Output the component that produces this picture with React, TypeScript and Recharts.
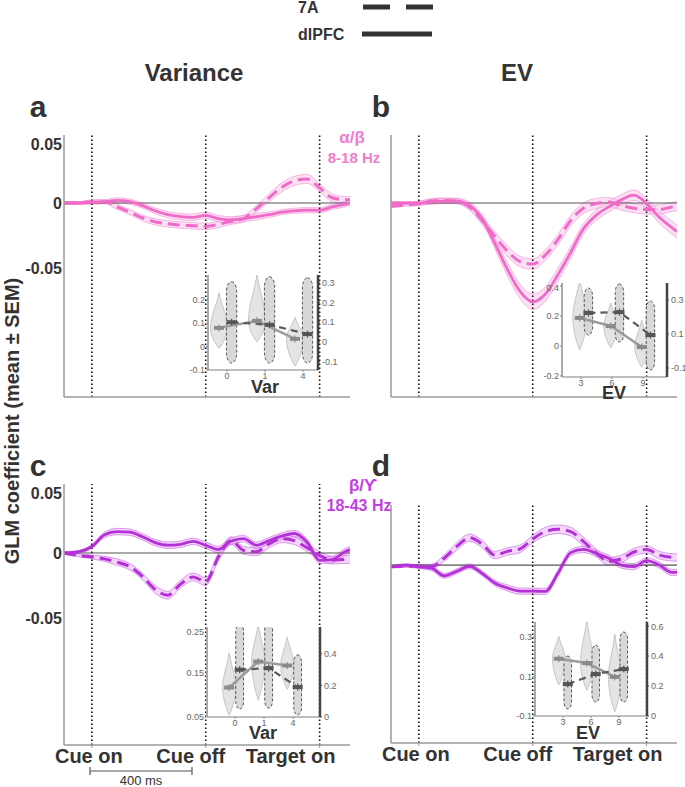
import React from 'react';
import { ComposedChart, Line, Area, XAxis, YAxis, ReferenceLine, ReferenceArea } from 'recharts';

const FONT = '"Liberation Sans", Arial, Helvetica, sans-serif';
const INK = '#333333';
const AXIS = '#9a9a9a';
const PINK = '#f06ac8';
const PINK_BAND = '#f8c6eb';
const PINK_TEXT = '#f27ccf';
const PURPLE = '#b52fd8';
const PURPLE_BAND = '#e8b6f4';
const PURPLE_TEXT = '#c13fe2';

// time from cue onset (ms)
const TIME = [-110, -50, 0, 50, 100, 150, 200, 250, 300, 350, 400, 450, 500, 550, 600, 650, 700, 750, 800, 850, 900, 950, 1000, 1020];
const EVENT_TIMES = [0, 450, 900];
const EVENT_LABELS = ['Cue on', 'Cue off', 'Target on'];
const Y_TICKS = [-0.05, 0, 0.05];

// a: Variance, alpha/beta
const A_DLPFC = [0, 0, 0.0005, 0.001, 0.002, 0.001, -0.002, -0.006, -0.009, -0.0105, -0.011, -0.0095, -0.012, -0.013, -0.012, -0.0105, -0.009, -0.007, -0.006, -0.0055, -0.0056, -0.003, -0.001, 0];
const A_DLPFC_SEM = [0.001, 0.001, 0.0015, 0.0015, 0.002, 0.002, 0.002, 0.0022, 0.0025, 0.0025, 0.0025, 0.0025, 0.0025, 0.0025, 0.0025, 0.0025, 0.0022, 0.002, 0.002, 0.002, 0.002, 0.002, 0.002, 0.002];
const A_7A = [0, 0, 0.001, 0.001, -0.003, -0.007, -0.0115, -0.0145, -0.016, -0.017, -0.0175, -0.018, -0.0165, -0.014, -0.012, -0.0045, 0.004, 0.012, 0.017, 0.0185, 0.0117, 0.004, 0.0025, 0.0025];
const A_7A_SEM = [0.001, 0.001, 0.0015, 0.0015, 0.002, 0.002, 0.0022, 0.0025, 0.0025, 0.0025, 0.0025, 0.0025, 0.0025, 0.0025, 0.0025, 0.0025, 0.003, 0.0035, 0.0035, 0.0035, 0.003, 0.003, 0.0025, 0.0025];

// b: EV, alpha/beta
const B_DLPFC = [0, 0, 0, 0.001, 0.0015, 0.0015, -0.0018, -0.012, -0.031, -0.051, -0.068, -0.076, -0.07, -0.055, -0.038, -0.02, -0.0095, -0.003, 0.0025, 0.006, -0.0005, -0.011, -0.019, -0.022];
const B_DLPFC_SEM = [0.001, 0.001, 0.0015, 0.002, 0.002, 0.002, 0.0025, 0.003, 0.004, 0.005, 0.0055, 0.006, 0.0055, 0.005, 0.0045, 0.004, 0.004, 0.004, 0.004, 0.004, 0.004, 0.0045, 0.005, 0.005];
const B_7A = [-0.0025, -0.0015, -0.0005, 0.0015, 0.002, 0.0015, -0.003, -0.0135, -0.0255, -0.037, -0.045, -0.047, -0.04, -0.028, -0.0135, -0.004, -0.0005, 0.0008, -0.002, -0.004, -0.005, -0.005, -0.003, -0.0025];
const B_7A_SEM = [0.001, 0.001, 0.0015, 0.002, 0.002, 0.002, 0.0025, 0.003, 0.0035, 0.004, 0.004, 0.004, 0.004, 0.004, 0.004, 0.004, 0.004, 0.0035, 0.0035, 0.0035, 0.0035, 0.0035, 0.0035, 0.0035];

// c: Variance, beta/gamma
const C_DLPFC = [0, 0.001, 0.005, 0.014, 0.0165, 0.016, 0.0125, 0.008, 0.006, 0.0067, 0.009, 0.006, 0.0028, 0.009, 0.011, 0.006, 0.0095, 0.013, 0.015, 0.0085, -0.0056, -0.005, 0.001, 0.0026];
const C_DLPFC_SEM = [0.001, 0.001, 0.0015, 0.002, 0.0025, 0.0025, 0.0025, 0.0025, 0.0025, 0.0025, 0.0025, 0.0025, 0.0025, 0.0025, 0.0025, 0.0025, 0.0025, 0.0025, 0.0025, 0.0025, 0.0025, 0.0025, 0.0025, 0.0025];
const C_7A = [0, -0.002, -0.003, -0.0045, -0.007, -0.0105, -0.018, -0.028, -0.0325, -0.024, -0.0184, -0.022, -0.003, 0.0095, 0.002, 0.001, 0.007, 0.011, 0.0095, 0.004, -0.0018, -0.0055, -0.005, -0.005];
const C_7A_SEM = [0.001, 0.001, 0.0015, 0.002, 0.0025, 0.0025, 0.0025, 0.003, 0.003, 0.003, 0.003, 0.003, 0.003, 0.003, 0.003, 0.003, 0.003, 0.003, 0.003, 0.003, 0.003, 0.003, 0.003, 0.003];

// d: EV, beta/gamma
const D_DLPFC = [-0.0013, 0, -0.0013, -0.0025, -0.0087, -0.005, -0.001, -0.0067, -0.0145, -0.0185, -0.021, -0.021, -0.0213, -0.0065, 0.01, 0.0126, 0.0095, 0.0055, 0, -0.0013, 0.0035, 0, -0.006, -0.006];
const D_DLPFC_SEM = [0.001, 0.001, 0.0015, 0.002, 0.002, 0.002, 0.002, 0.002, 0.0022, 0.0025, 0.0025, 0.0025, 0.0025, 0.0025, 0.0025, 0.0025, 0.0025, 0.0025, 0.0025, 0.0025, 0.0025, 0.0025, 0.0025, 0.0025];
const D_7A = [-0.0013, -0.001, -0.001, -0.0013, 0.0055, 0.015, 0.022, 0.017, 0.008, 0.011, 0.013, 0.021, 0.027, 0.0288, 0.027, 0.019, 0.0099, 0.003, 0.005, 0.0105, 0.0125, 0.008, 0.0062, 0.006];
const D_7A_SEM = [0.001, 0.001, 0.0015, 0.002, 0.0025, 0.003, 0.003, 0.003, 0.003, 0.003, 0.003, 0.003, 0.0035, 0.0035, 0.0035, 0.0035, 0.003, 0.003, 0.003, 0.003, 0.003, 0.003, 0.003, 0.003];

// insets: violin summaries per category (dlPFC on left axis, 7A on right axis)
const VAR_CATS = ['0', '1', '4'];
const EV_CATS = ['3', '6', '9'];

const IA_DL_MEAN = [0.08, 0.11, 0.033];
const IA_DL_MIN = [-0.008, 0.02, -0.083];
const IA_DL_MAX = [0.23, 0.31, 0.125];
const IA_7A_MEAN = [0.1, 0.087, 0.04];
const IA_7A_MIN = [-0.107, -0.107, -0.107];
const IA_7A_MAX = [0.305, 0.33, 0.325];

const IB_DL_MEAN = [0.187, 0.133, -0.007];
const IB_DL_MIN = [-0.027, -0.013, -0.14];
const IB_DL_MAX = [0.45, 0.287, 0.173];
const IB_7A_MEAN = [0.224, 0.229, 0.094];
const IB_7A_MIN = [0.094, 0.053, -0.112];
const IB_7A_MAX = [0.37, 0.394, 0.294];

const IC_DL_MEAN = [0.117, 0.176, 0.167];
const IC_DL_MIN = [0.054, 0.088, 0.113];
const IC_DL_MAX = [0.196, 0.261, 0.232];
const IC_7A_MEAN = [0.3, 0.31, 0.19];
const IC_7A_MIN = [0.05, 0.057, 0.013];
const IC_7A_MAX = [0.59, 0.615, 0.394];

const ID_DL_MEAN = [0.19, 0.168, 0.098];
const ID_DL_MIN = [0.057, 0.03, -0.08];
const ID_DL_MAX = [0.305, 0.39, 0.315];
const ID_7A_MEAN = [0.213, 0.28, 0.313];
const ID_7A_MIN = [0.047, 0.093, 0.093];
const ID_7A_MAX = [0.4, 0.473, 0.56];

const EVENT_DX = [-3, -15, -29];

function EventTick(props: any) {
  const { x, y, payload } = props;
  const i = EVENT_TIMES.indexOf(payload.value);
  return (
    <text x={x + EVENT_DX[i]} y={y} dy={13} textAnchor="middle" fontSize={20} fontWeight="bold" fill={INK} fontFamily={FONT}>
      {EVENT_LABELS[i]}
    </text>
  );
}

function MainPanel(props: any) {
  const { x, y, plotW, plotH, axisW, yDomain, color, band, dl, dlSem, sa, saSem, showY, showX } = props;
  const rows = TIME.map((t, i) => ({
    t,
    dl: dl[i],
    sa: sa[i],
    dlBand: [dl[i] - dlSem[i], dl[i] + dlSem[i]],
    saBand: [sa[i] - saSem[i], sa[i] + saSem[i]],
  }));
  const xAxisH = showX ? 30 : 8;
  return (
    <div style={{ position: 'absolute', left: x - axisW, top: y }}>
      <ComposedChart width={plotW + axisW} height={plotH + xAxisH} data={rows} margin={{ top: 0, right: 0, bottom: 0, left: 0 }}>
        <XAxis
          dataKey="t"
          type="number"
          domain={[-110, 1020]}
          ticks={EVENT_TIMES}
          allowDataOverflow
          height={xAxisH}
          axisLine={{ stroke: AXIS, strokeWidth: 1.5 }}
          tickLine={{ stroke: AXIS }}
          tickSize={3}
          tick={showX ? <EventTick /> : false}
        />
        <YAxis
          type="number"
          domain={yDomain}
          allowDataOverflow
          ticks={Y_TICKS}
          width={axisW}
          axisLine={{ stroke: AXIS, strokeWidth: 1.5 }}
          tickLine={showY ? false : { stroke: AXIS }}
          tickSize={showY ? 0 : 3}
          tickMargin={2}
          tickFormatter={(v: number) => String(v)}
          tick={showY ? { fontSize: 16, fontWeight: 'bold', fill: INK, fontFamily: FONT } : false}
        />
        <ReferenceLine y={0} stroke="#555" strokeWidth={1.2} />
        {EVENT_TIMES.map((t) => (
          <ReferenceLine key={t} x={t} stroke="#111" strokeWidth={1.6} strokeDasharray="1.5 2.5" />
        ))}
        <Area dataKey="saBand" type="monotone" stroke={color} strokeOpacity={0.55} strokeWidth={0.8} fill={band} fillOpacity={0.55} dot={false} activeDot={false} isAnimationActive={false} />
        <Area dataKey="dlBand" type="monotone" stroke={color} strokeOpacity={0.55} strokeWidth={0.8} fill={band} fillOpacity={0.55} dot={false} activeDot={false} isAnimationActive={false} />
        <Line dataKey="dl" type="monotone" stroke={color} strokeWidth={2.8} dot={false} activeDot={false} isAnimationActive={false} />
        <Line dataKey="sa" type="monotone" stroke={color} strokeWidth={3} strokeDasharray="12 6" dot={false} activeDot={false} isAnimationActive={false} />
      </ComposedChart>
    </div>
  );
}

const SOLID_W = 0.45;
const DASH_W = 0.27;

function solidViolin(frac: number) {
  return (p: any) => {
    const { x, y, width: w, height: h } = p;
    if (![x, y, w, h].every((v) => typeof v === 'number' && isFinite(v))) return <g />;
    const cx = x + w / 2;
    const yw = y + frac * h;
    const up = yw - y;
    const dn = y + h - yw;
    const d = `M${cx},${y} C${cx + w * 0.12},${y + up * 0.35} ${x + w},${yw - up * 0.35} ${x + w},${yw} C${x + w},${yw + dn * 0.45} ${cx + w * 0.1},${y + h - dn * 0.1} ${cx},${y + h} C${cx - w * 0.1},${y + h - dn * 0.1} ${x},${yw + dn * 0.45} ${x},${yw} C${x},${yw - up * 0.35} ${cx - w * 0.12},${y + up * 0.35} ${cx},${y} Z`;
    return <path d={d} fill="#e4e4e4" stroke="#c6c6c6" strokeWidth={1} />;
  };
}

function dashedViolin(p: any) {
  const { x, y, width: w, height: h } = p;
  if (![x, y, w, h].every((v) => typeof v === 'number' && isFinite(v))) return <g />;
  return <rect x={x} y={y} width={w} height={h} rx={w / 2} ry={Math.min(w, h / 3)} fill="#d8d8d8" stroke="#555" strokeWidth={1} strokeDasharray="3 2" />;
}

function meanDot(color: string) {
  return (p: any) => {
    const { cx, cy, index } = p;
    if (typeof cx !== 'number' || typeof cy !== 'number' || !isFinite(cy) || p.value == null) return <g key={index} />;
    return (
      <g key={index}>
        <line x1={cx} x2={cx} y1={cy - 3.5} y2={cy + 3.5} stroke={color} strokeWidth={1.2} />
        <rect x={cx - 5} y={cy - 2} width={10} height={4} fill={color} />
      </g>
    );
  };
}

function Inset(props: any) {
  const { x, y, w, h, xDomain, cats, dodgeDl, dodge7a, leftDomain, leftTicks, rightDomain, rightTicks, dlMean, dlMin, dlMax, saMean, saMin, saMax } = props;
  const rows: any[] = [];
  cats.forEach((_c: string, i: number) => {
    rows.push({ x: i + dodgeDl, dl: dlMean[i] });
    rows.push({ x: i + dodge7a, sa: saMean[i] });
  });
  rows.sort((a, b) => a.x - b.x);
  const tickStyle = { fontSize: 9, fill: '#666', fontFamily: FONT };
  return (
    <div style={{ position: 'absolute', left: x - 26, top: y }}>
      <ComposedChart width={w + 52} height={h + 12} data={rows} margin={{ top: 0, right: 0, bottom: 0, left: 0 }}>
        <XAxis
          dataKey="x"
          type="number"
          domain={xDomain}
          allowDataOverflow
          ticks={[0, 1, 2]}
          tickFormatter={(v: number) => cats[v]}
          height={12}
          tick={tickStyle}
          tickSize={2}
          tickMargin={1}
          axisLine={{ stroke: '#aaa', strokeWidth: 1.5 }}
          tickLine={{ stroke: '#888' }}
        />
        <YAxis
          yAxisId="left"
          type="number"
          domain={leftDomain}
          allowDataOverflow
          ticks={leftTicks}
          width={26}
          tick={tickStyle}
          tickSize={2}
          tickMargin={1}
          tickFormatter={(v: number) => String(v)}
          axisLine={{ stroke: '#aaa', strokeWidth: 2 }}
          tickLine={{ stroke: '#888' }}
        />
        <YAxis
          yAxisId="right"
          orientation="right"
          type="number"
          domain={rightDomain}
          allowDataOverflow
          ticks={rightTicks}
          width={26}
          tick={tickStyle}
          tickSize={2}
          tickMargin={2}
          tickFormatter={(v: number) => String(v)}
          axisLine={{ stroke: '#444', strokeWidth: 2.5 }}
          tickLine={{ stroke: '#444' }}
        />
        {cats.map((_c: string, i: number) => (
          <ReferenceArea
            key={'s' + i}
            yAxisId="left"
            x1={i + dodgeDl - SOLID_W / 2}
            x2={i + dodgeDl + SOLID_W / 2}
            y1={dlMin[i]}
            y2={dlMax[i]}
            ifOverflow="visible"
            shape={solidViolin((dlMax[i] - dlMean[i]) / (dlMax[i] - dlMin[i]))}
          />
        ))}
        {cats.map((_c: string, i: number) => (
          <ReferenceArea
            key={'d' + i}
            yAxisId="right"
            x1={i + dodge7a - DASH_W / 2}
            x2={i + dodge7a + DASH_W / 2}
            y1={saMin[i]}
            y2={saMax[i]}
            ifOverflow="visible"
            shape={dashedViolin}
          />
        ))}
        <Line yAxisId="left" dataKey="dl" connectNulls stroke="#9c9c9c" strokeWidth={2.5} dot={meanDot('#8a8a8a')} activeDot={false} isAnimationActive={false} />
        <Line yAxisId="right" dataKey="sa" connectNulls stroke="#5a5a5a" strokeWidth={2.2} strokeDasharray="7 5" dot={meanDot('#555')} activeDot={false} isAnimationActive={false} />
      </ComposedChart>
    </div>
  );
}

const txt = (x: number, y: number, s: string, size: number, color = INK, weight = 'bold', anchor = 'middle') => (
  <text x={x} y={y} fontSize={size} fontWeight={weight} fill={color} textAnchor={anchor} dominantBaseline="central" fontFamily={FONT}>
    {s}
  </text>
);

export default function App() {
  return (
    <div style={{ position: 'absolute', left: 0, top: 0, width: 685, height: 787, background: '#fff', fontFamily: FONT }}>
      <MainPanel x={64} y={135} plotW={286} plotH={262} axisW={50} yDomain={[-0.1492, 0.0523]} color={PINK} band={PINK_BAND} dl={A_DLPFC} dlSem={A_DLPFC_SEM} sa={A_7A} saSem={A_7A_SEM} showY showX={false} />
      <MainPanel x={391} y={135} plotW={286} plotH={262} axisW={10} yDomain={[-0.1492, 0.0523]} color={PINK} band={PINK_BAND} dl={B_DLPFC} dlSem={B_DLPFC_SEM} sa={B_7A} saSem={B_7A_SEM} showY={false} showX={false} />
      <MainPanel x={64} y={484} plotW={286} plotH={261} axisW={50} yDomain={[-0.1477, 0.0531]} color={PURPLE} band={PURPLE_BAND} dl={C_DLPFC} dlSem={C_DLPFC_SEM} sa={C_7A} saSem={C_7A_SEM} showY showX />
      <MainPanel x={391} y={505} plotW={286} plotH={238} axisW={10} yDomain={[-0.1435, 0.0484]} color={PURPLE} band={PURPLE_BAND} dl={D_DLPFC} dlSem={D_DLPFC_SEM} sa={D_7A} saSem={D_7A_SEM} showY={false} showX />

      <Inset x={208} y={275} w={110} h={95} xDomain={[-0.5, 2.395]} cats={VAR_CATS} dodgeDl={-0.21} dodge7a={0.12}
        leftDomain={[-0.1, 0.306]} leftTicks={[-0.1, 0, 0.1, 0.2]} rightDomain={[-0.142, 0.339]} rightTicks={[-0.1, 0, 0.1, 0.2, 0.3]}
        dlMean={IA_DL_MEAN} dlMin={IA_DL_MIN} dlMax={IA_DL_MAX} saMean={IA_7A_MEAN} saMin={IA_7A_MIN} saMax={IA_7A_MAX} />
      <Inset x={562} y={283} w={105} h={94} xDomain={[-0.613, 2.774]} cats={EV_CATS} dodgeDl={-0.04} dodge7a={0.24}
        leftDomain={[-0.207, 0.42]} leftTicks={[-0.2, 0, 0.2, 0.4]} rightDomain={[-0.153, 0.4]} rightTicks={[-0.1, 0.1, 0.3]}
        dlMean={IB_DL_MEAN} dlMin={IB_DL_MIN} dlMax={IB_DL_MAX} saMean={IB_7A_MEAN} saMin={IB_7A_MIN} saMax={IB_7A_MAX} />
      <Inset x={207} y={627} w={113} h={90} xDomain={[-0.966, 2.931]} cats={VAR_CATS} dodgeDl={-0.2} dodge7a={0.16}
        leftDomain={[0.05, 0.2545]} leftTicks={[0.05, 0.15, 0.25]} rightDomain={[0, 0.571]} rightTicks={[0, 0.2, 0.4]}
        dlMean={IC_DL_MEAN} dlMin={IC_DL_MIN} dlMax={IC_DL_MAX} saMean={IC_7A_MEAN} saMin={IC_7A_MIN} saMax={IC_7A_MAX} />
      <Inset x={535} y={622} w={112} h={94} xDomain={[-1.0, 3.0]} cats={EV_CATS} dodgeDl={-0.15} dodge7a={0.17}
        leftDomain={[-0.1, 0.376]} leftTicks={[-0.1, 0.1, 0.3]} rightDomain={[0, 0.627]} rightTicks={[0, 0.2, 0.4, 0.6]}
        dlMean={ID_DL_MEAN} dlMin={ID_DL_MIN} dlMax={ID_DL_MAX} saMean={ID_7A_MEAN} saMin={ID_7A_MIN} saMax={ID_7A_MAX} />

      <svg width={685} height={787} style={{ position: 'absolute', left: 0, top: 0, pointerEvents: 'none' }}>
        {txt(298, 7, '7A', 16, INK, 'bold', 'start')}
        <line x1={363} x2={390} y1={7} y2={7} stroke={INK} strokeWidth={5} />
        <line x1={406} x2={433} y1={7} y2={7} stroke={INK} strokeWidth={5} />
        {txt(298, 34, 'dlPFC', 16, INK, 'bold', 'start')}
        <line x1={362} x2={432} y1={34} y2={34} stroke={INK} strokeWidth={5} />

        {txt(194, 72, 'Variance', 24)}
        {txt(517, 72, 'EV', 24)}
        {txt(38, 106, 'a', 30)}
        {txt(381, 106, 'b', 30)}
        {txt(38, 465, 'c', 30)}
        {txt(381, 465, 'd', 30)}

        <g transform="rotate(-90, 12, 421)">{txt(12, 421, 'GLM coefficient (mean ± SEM)', 20)}</g>

        {txt(352, 137, 'α/β', 17, PINK_TEXT)}
        {txt(354, 157, '8-18 Hz', 15, PINK_TEXT)}
        {txt(363, 485, 'β/ϒ', 17, PURPLE_TEXT)}
        {txt(359, 505, '18-43 Hz', 16, PURPLE_TEXT)}

        {txt(265, 387, 'Var', 18)}
        {txt(614, 393, 'EV', 18)}
        {txt(263, 733, 'Var', 18)}
        {txt(588, 733, 'EV', 18)}

        <line x1={90} x2={192} y1={771} y2={771} stroke="#555" strokeWidth={1.2} />
        <line x1={90} x2={90} y1={767} y2={775} stroke="#555" strokeWidth={1.2} />
        <line x1={192} x2={192} y1={767} y2={775} stroke="#555" strokeWidth={1.2} />
        {txt(141, 780, '400 ms', 13, INK, 'normal')}
      </svg>
    </div>
  );
}
